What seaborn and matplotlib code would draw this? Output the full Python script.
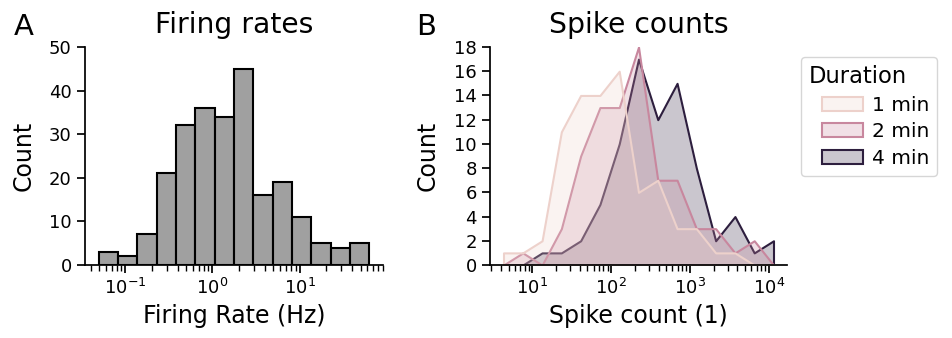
import numpy as np
import pandas as pd
import matplotlib
matplotlib.use("Agg")
import matplotlib.pyplot as plt
from matplotlib.patches import Patch, Rectangle
from matplotlib.legend_handler import HandlerPatch
import seaborn as sns

# ---------------- data ----------------
# Panel A: firing-rate histogram (counts per log-spaced bin)
rate_counts = [3, 2, 7, 21, 32, 36, 34, 45, 16, 19, 11, 5, 4, 5]
rate_log_lo, rate_log_hi = -1.3065, 1.801          # log10 of outer bin edges (Hz)

# Panel B: spike-count histograms per recording duration
durations = ["1 min", "2 min", "4 min"]
duration_minutes = [1, 2, 4]
counts_1min = [1, 1, 2, 11, 14, 14, 16, 6, 7, 3, 3, 1, 1, 0, 0]
counts_2min = [0, 1, 0, 3, 9, 13, 13, 18, 7, 7, 3, 3, 1, 2, 0]
counts_4min = [0, 0, 1, 1, 2, 5, 10, 17, 12, 15, 8, 2, 4, 1, 2]
spike_log_lo, spike_log_hi = 0.4963, 4.164         # log10 of outer bin edges

# ---------------- tables ----------------
rate_edges = np.linspace(rate_log_lo, rate_log_hi, len(rate_counts) + 1)
rate_centers = 10 ** ((rate_edges[:-1] + rate_edges[1:]) / 2)
df_rates = pd.DataFrame({"rate": rate_centers, "w": rate_counts})

spike_edges = np.linspace(spike_log_lo, spike_log_hi, len(counts_1min) + 1)
spike_centers = 10 ** ((spike_edges[:-1] + spike_edges[1:]) / 2)
rows = []
for d, cnts in zip(durations, [counts_1min, counts_2min, counts_4min]):
    for c, w in zip(spike_centers, cnts):
        rows.append({"spikes": c, "w": w, "Duration": d})
df_spikes = pd.DataFrame(rows)

cmap = sns.cubehelix_palette(as_cmap=True)
lo, hi = min(duration_minutes), max(duration_minutes)
palette = {d: cmap((m - lo) / (hi - lo)) for d, m in zip(durations, duration_minutes)}

# ---------------- figure ----------------
sns.set_theme(style="ticks")
plt.rcParams["font.family"] = ["DejaVu Sans"]
for k in ["text.color", "axes.labelcolor", "axes.edgecolor", "xtick.color", "ytick.color"]:
    plt.rcParams[k] = "black"

fig = plt.figure(figsize=(9.52, 3.38), dpi=100)
W, H = 952, 338
axA = fig.add_axes([85 / W, (H - 265) / H, 298 / W, 218 / H])
axB = fig.add_axes([490 / W, (H - 265) / H, 297 / W, 218 / H])

sns.histplot(data=df_rates, x="rate", weights="w", bins=list(rate_edges), log_scale=True,
             color="gray", edgecolor="black", linewidth=1.5, ax=axA)
axA.set_ylim(0, 50)
axA.set_yticks([0, 10, 20, 30, 40, 50])
axA.set_title("Firing rates", fontsize=20.3, pad=10)
axA.set_xlabel("Firing Rate (Hz)", fontsize=17)
axA.set_ylabel("Count", fontsize=17, labelpad=10)

sns.histplot(data=df_spikes, x="spikes", weights="w", hue="Duration", hue_order=durations,
             palette=palette, bins=list(spike_edges), log_scale=True, element="poly",
             linewidth=1.5, ax=axB)
axB.set_ylim(0, 18)
axB.set_yticks(range(0, 19, 2))
axB.set_title("Spike counts", fontsize=20.3, pad=10)
axB.set_xlabel("Spike count (1)", fontsize=17)
axB.set_ylabel("Count", fontsize=17, labelpad=10)

for ax in (axA, axB):
    ax.tick_params(axis="both", which="major", labelsize=13)
    sns.despine(ax=ax)


class IndentedPatch(HandlerPatch):
    def __init__(self, indent, **kw):
        super().__init__(**kw)
        self.indent = indent

    def _create_patch(self, legend, orig_handle, xdescent, ydescent, width, height, fontsize):
        return Rectangle(xy=(-xdescent + self.indent, -ydescent),
                         width=width - self.indent, height=height)


old = axB.get_legend()
handles = old.legend_handles
labels = [t.get_text() for t in old.get_texts()]
old.remove()
axB.legend(handles, labels, title="Duration", loc="upper left",
           bbox_to_anchor=(1.046, 0.954), borderaxespad=0, frameon=True,
           fontsize=14.5, title_fontsize=16.3, handlelength=2.69, handletextpad=0.45,
           labelspacing=0.38, alignment="left",
           handler_map={Patch: IndentedPatch(9.4)})

fig.text(14 / W, 1 - 35 / H, "A", fontsize=21, va="baseline")
fig.text(416 / W, 1 - 35 / H, "B", fontsize=21, va="baseline")

fig.savefig("out.png", dpi=100)
